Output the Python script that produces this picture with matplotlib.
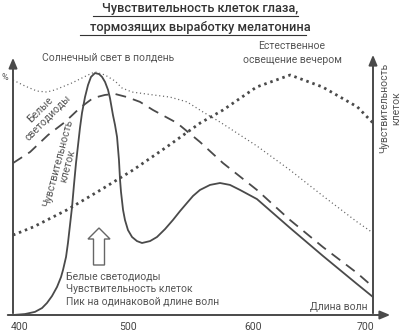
import matplotlib
matplotlib.use("Agg")
import matplotlib.pyplot as plt
import matplotlib.transforms as mtransforms
from matplotlib.patches import FancyArrow
from matplotlib.lines import Line2D

plt.rcParams['font.family'] = ['Roboto', 'DejaVu Sans']

# ---- data (wavelength nm, relative sensitivity %) ----
cells_nm = [400, 410, 418.3, 424.2, 428.3, 432.5, 436.7, 440, 441.7, 444.2, 445.8,
            447.5, 449.2, 450.8, 452.5, 454.2, 455.8, 457.5, 460, 462.5, 465, 468.3,
            471.7, 474.2, 476.7, 479.2, 480.8, 483.3, 485, 486.7, 488.3, 489.2, 490,
            491.7, 493.3, 495.8, 499.2, 503.3, 507.5, 514.2, 520, 526.7, 533.3, 539.2,
            545, 550, 555.8, 564.2, 572.5, 580.8, 589.2, 603.3, 630.8, 658.3, 686.7, 700]
cells_val = [0, 0.4, 1.3, 2.9, 5, 7.9, 11.7, 15.8, 18.8, 24.2, 30,
             37.5, 45, 54.2, 63.3, 70.8, 77.9, 84.2, 90.8, 95.8, 99.2, 100.8,
             100.4, 99.2, 97.1, 93.8, 90.4, 83.3, 79.2, 74.2, 64.6, 56.3, 51.3,
             43.8, 39.6, 35.4, 32.5, 30.8, 30, 30.8, 32.5, 35.8, 39.6, 43.3,
             46.7, 49.6, 52.1, 54.2, 55, 54.2, 52.1, 48.3, 36.3, 24.6, 12.9, 7.5]

led_nm = [400, 414.2, 429.2, 443.3, 455.8, 466.7, 476.7, 485, 495, 505.8, 516.7,
          536.7, 555.8, 575, 603.3, 630.8, 658.3, 686.7, 700]
led_val = [63.3, 67.9, 75, 80.4, 86.3, 90.4, 91.7, 92.1, 90.8, 88.8, 85.4,
           80, 72.1, 63.3, 52.1, 39.6, 28.3, 17.5, 11.7]

sun_nm = [400, 410, 420, 428.3, 435, 449.2, 462.5, 468.3, 476.7, 485, 490.8, 499.2,
          516.7, 530.8, 545, 558.3, 572.5, 586.7, 603.3, 630.8, 658.3, 686.7, 700]
sun_val = [97.9, 95.4, 93.3, 92.9, 93.8, 96.7, 100, 101.3, 100, 97.5, 94.6, 92.9,
           91.7, 90.8, 88.8, 84.6, 80.4, 75.8, 70.4, 60.4, 49.6, 38.8, 34.2]

evening_nm = [400, 417, 445, 473, 500, 528, 556, 575, 603, 631, 658, 687, 700]
evening_val = [33.3, 36.7, 43.8, 52.1, 60.4, 70, 80, 85.4, 95, 100, 95, 86.7, 80]

tick_values = [400, 500, 600, 700]
tick_labels = ["400", "500", "600", "700"]

title_lines = ["Чувствительность клеток глаза,", "тормозящих выработку мелатонина"]

W, H, DPI = 402, 332, 100
fig = plt.figure(figsize=(W / DPI, H / DPI), dpi=DPI)
fig.patch.set_facecolor("white")
# pixel transform (origin top-left)
P = mtransforms.Affine2D().scale(1 / DPI, -1 / DPI).translate(0, H / DPI) + fig.dpi_scale_trans

ax = fig.add_axes([13 / W, (H - 315) / H, 360 / W, 240 / H])
ax.set_xlim(400, 700)
ax.set_ylim(0, 100)
ax.axis("off")

lc = "#4a4a4a"
ax.plot(cells_nm, cells_val, color=lc, lw=1.3, solid_joinstyle="round",
        solid_capstyle="round", clip_on=False)
ax.plot(led_nm, led_val, color=lc, lw=1.3, dashes=(6, 4), clip_on=False)
ax.plot(sun_nm, sun_val, color="#666666", lw=0.9, dashes=(0.9, 2.2), clip_on=False)
ax.plot(evening_nm, evening_val, color=lc, lw=2.0, dashes=(0.9, 1.4), clip_on=False)

# axes arrows
ac = "#4a4a4a"
ax.annotate("", xy=(13, 55), xytext=(13, 316), xycoords=P, textcoords=P,
            arrowprops=dict(arrowstyle="-|>,head_length=0.6,head_width=0.25", color=ac, lw=1.4))
ax.annotate("", xy=(373, 52), xytext=(373, 316), xycoords=P, textcoords=P,
            arrowprops=dict(arrowstyle="-|>,head_length=0.6,head_width=0.25", color=ac, lw=1.4))
ax.annotate("", xy=(393, 315), xytext=(5, 315), xycoords=P, textcoords=P,
            arrowprops=dict(arrowstyle="-|>,head_length=0.6,head_width=0.25", color=ac, lw=1.4))

# tick labels
tick_px = [20, 128, 253, 365]
for v, lab, px in zip(tick_values, tick_labels, tick_px):
    fig.text(px, 327, lab, transform=P, ha="center", va="center", fontsize=7.5, color="#444444")

tc = "#555555"
fs = 7.5
fig.text(5, 78, "%", transform=P, ha="center", va="center", fontsize=6.5, color=tc)
fig.text(108, 58, "Солнечный свет в полдень", transform=P, ha="center", va="center",
         fontsize=fs, color=tc)
fig.text(292, 53, "Естественное\nосвещение вечером", transform=P, ha="center", va="center",
         fontsize=fs, color=tc, linespacing=1.45)
fig.text(44, 114, "Белые\nсветодиоды", transform=P, ha="center", va="center",
         fontsize=fs, color=tc, rotation=45, rotation_mode="anchor", linespacing=1.1)
fig.text(63, 165, "Чувствительность\nклеток", transform=P, ha="center", va="center",
         fontsize=fs, color=tc, rotation=75, rotation_mode="anchor", linespacing=1.1)
fig.text(390, 108, "Чувствительность\nклеток", transform=P, ha="center", va="center",
         fontsize=fs, color=tc, rotation=90, rotation_mode="anchor", linespacing=1.2)
fig.text(66, 289, "Белые светодиоды\nЧувствительность клеток\nПик на одинаковой длине волн",
         transform=P, ha="left", va="center", fontsize=fs, color=tc, linespacing=1.3)
fig.text(368, 307, "Длина волн", transform=P, ha="right", va="center", fontsize=fs, color=tc)

# hollow arrow
arr = FancyArrow(99, 265, 0, -37, width=11, head_width=22, head_length=11,
                 length_includes_head=True, transform=P, facecolor="white",
                 edgecolor="#666666", lw=1.0)
fig.patches.append(arr)

# title with underline
for t, y in zip(title_lines, [8.5, 28]):
    fig.text(200, y, t, transform=P, ha="center", va="center", fontsize=9.2,
             fontweight="medium", color="#333333")
fig.add_artist(Line2D([93, 298], [15.5, 15.5], transform=P, color="#333333", lw=0.8))
fig.add_artist(Line2D([80, 306], [35, 35], transform=P, color="#333333", lw=0.8))

fig.savefig("out.png", dpi=DPI, facecolor="white")
